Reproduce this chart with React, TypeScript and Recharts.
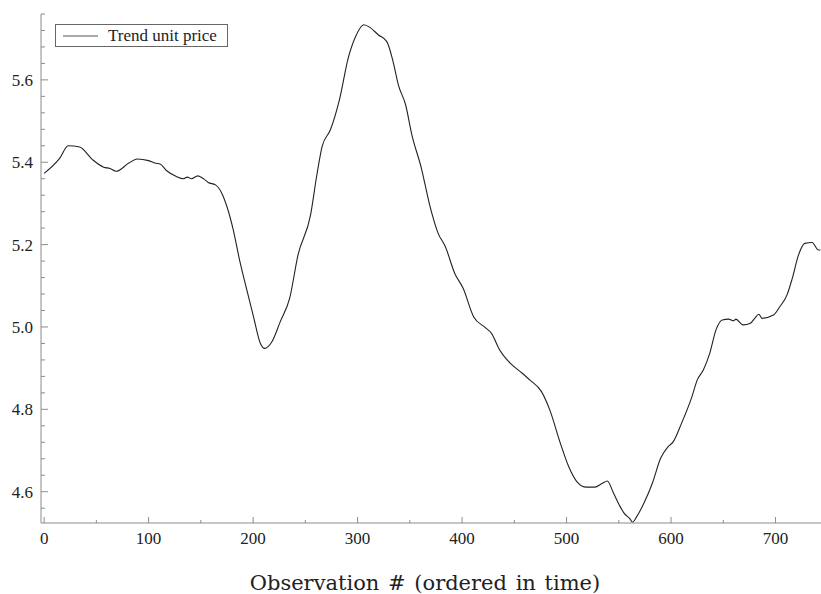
import React from 'react';
import { LineChart, Line, XAxis, YAxis, Legend } from 'recharts';

const obs = [
  0, 15, 23, 34, 46, 57, 63, 69, 81, 89, 100, 106, 111, 117, 127, 133, 137, 141, 147, 153,
  157, 164, 170, 175, 181, 187, 192, 200, 207, 211, 218, 226, 235, 243, 255, 261, 266, 274,
  283, 291, 298, 306, 312, 320, 328, 334, 339, 346, 352, 361, 369, 377, 384, 393, 401, 411,
  422, 428, 436, 446, 456, 465, 476, 484, 494, 502, 510, 519, 527, 534, 539, 545, 551, 555,
  561, 563, 567, 574, 582, 590, 597, 602, 610, 620, 625, 631, 637, 643, 649, 655, 660, 662,
  669, 676, 680, 684, 687, 698, 704, 711, 716, 722, 728, 735, 741, 743,
];

const trendPrice = [
  5.373, 5.41, 5.44, 5.437, 5.407, 5.388, 5.385, 5.378, 5.398, 5.408, 5.404, 5.398, 5.396,
  5.38, 5.365, 5.36, 5.364, 5.36, 5.367, 5.359, 5.351, 5.345, 5.325, 5.292, 5.236, 5.163,
  5.11, 5.029, 4.96, 4.948, 4.964, 5.013, 5.07, 5.175, 5.272, 5.369, 5.438, 5.479, 5.556,
  5.653, 5.705, 5.734, 5.727, 5.709, 5.693, 5.644, 5.588, 5.539, 5.466, 5.386, 5.296, 5.228,
  5.195, 5.13, 5.094, 5.025, 4.999, 4.985, 4.944, 4.912, 4.891, 4.871, 4.843, 4.798, 4.718,
  4.661, 4.624, 4.611, 4.611, 4.62, 4.626, 4.596, 4.565, 4.548, 4.533, 4.526, 4.539, 4.572,
  4.62, 4.681, 4.709, 4.721, 4.766, 4.831, 4.871, 4.896, 4.936, 4.993, 5.017, 5.019, 5.015,
  5.019, 5.005, 5.009, 5.021, 5.031, 5.021, 5.029, 5.049, 5.078, 5.118, 5.175, 5.203, 5.205,
  5.187, 5.187,
];

const xMajorTicks = [0, 100, 200, 300, 400, 500, 600, 700];
const xMinorTicks = [50, 150, 250, 350, 450, 550, 650];
const yMajorTicks = [4.6, 4.8, 5.0, 5.2, 5.4, 5.6];
const yMinorTicks = [
  4.56, 4.64, 4.68, 4.72, 4.76, 4.84, 4.88, 4.92, 4.96, 5.04, 5.08, 5.12, 5.16, 5.24, 5.28,
  5.32, 5.36, 5.44, 5.48, 5.52, 5.56, 5.64, 5.68, 5.72, 5.76,
];

const data = obs.map((o, i) => ({ obs: o, price: trendPrice[i] }));

const FONT = '"Liberation Serif", "Times New Roman", serif';
const AXIS_GREY = '#8c8c8c';

const isMajor = (v: number, majors: number[]) => majors.some((m) => Math.abs(m - v) < 1e-6);

const XTick = (props: any) => {
  const { x, y, payload } = props;
  const major = isMajor(payload.value, xMajorTicks);
  const axisY = y - 15;
  return (
    <g>
      <line x1={x} x2={x} y1={axisY} y2={axisY - (major ? 6 : 3)} stroke={AXIS_GREY} />
      {major && (
        <text x={x} y={y} dy="0.36em" textAnchor="middle" fill="#222" style={{ fontFamily: FONT, fontSize: 17 }}>
          {payload.value}
        </text>
      )}
    </g>
  );
};

const YTick = (props: any) => {
  const { x, y, payload } = props;
  const major = isMajor(payload.value, yMajorTicks);
  const axisX = x + 8;
  return (
    <g>
      <line x1={axisX} x2={axisX + (major ? 7 : 4)} y1={y} y2={y} stroke={AXIS_GREY} />
      {major && (
        <text x={x} y={y} dy="0.36em" textAnchor="end" fill="#222" style={{ fontFamily: FONT, fontSize: 17 }}>
          {payload.value.toFixed(1)}
        </text>
      )}
    </g>
  );
};

const LegendBox = () => (
  <div
    style={{
      width: 171,
      height: 21,
      border: '1px solid #666',
      background: '#fff',
      display: 'flex',
      alignItems: 'center',
      fontFamily: FONT,
      fontSize: 17,
      color: '#222',
    }}
  >
    <svg width={52} height={21}>
      <line x1={7} x2={42} y1={11} y2={11} stroke="#555" />
    </svg>
    <span>Trend unit price</span>
  </div>
);

// axis title sits right at the bottom of the frame, like the original
const AxisTitle = () => (
  <text
    x={425}
    y={590}
    textAnchor="middle"
    fill="#222"
    style={{ fontFamily: '"DejaVu Serif", serif', fontSize: 21, wordSpacing: 2 }}
  >
    Observation # (ordered in time)
  </text>
);

export default function App() {
  return (
    <div>
      <style>{'body{margin:0}'}</style>
      <LineChart width={821} height={594} data={data} margin={{ top: 14, right: 0, left: 0, bottom: 0 }}>
        <XAxis
          dataKey="obs"
          type="number"
          domain={[-3, 743.5]}
          ticks={[...xMajorTicks, ...xMinorTicks].sort((a, b) => a - b)}
          interval={0}
          height={71}
          tickSize={0}
          tickMargin={15}
          tickLine={false}
          tick={<XTick />}
          axisLine={{ stroke: AXIS_GREY }}
          allowDataOverflow
          label={<AxisTitle />}
        />
        <YAxis
          type="number"
          domain={[4.524, 5.76]}
          ticks={[...yMajorTicks, ...yMinorTicks].sort((a, b) => a - b)}
          interval={0}
          width={41}
          tickSize={0}
          tickMargin={8}
          tickLine={false}
          tick={<YTick />}
          axisLine={{ stroke: AXIS_GREY }}
          allowDataOverflow
        />
        <Legend
          verticalAlign="middle"
          layout="horizontal"
          content={<LegendBox />}
          wrapperStyle={{ position: 'absolute', top: 24, left: 55, width: 'auto' }}
        />
        <Line
          type="monotone"
          dataKey="price"
          name="Trend unit price"
          stroke="#222"
          strokeWidth={1.1}
          dot={false}
          isAnimationActive={false}
        />
      </LineChart>
    </div>
  );
}
